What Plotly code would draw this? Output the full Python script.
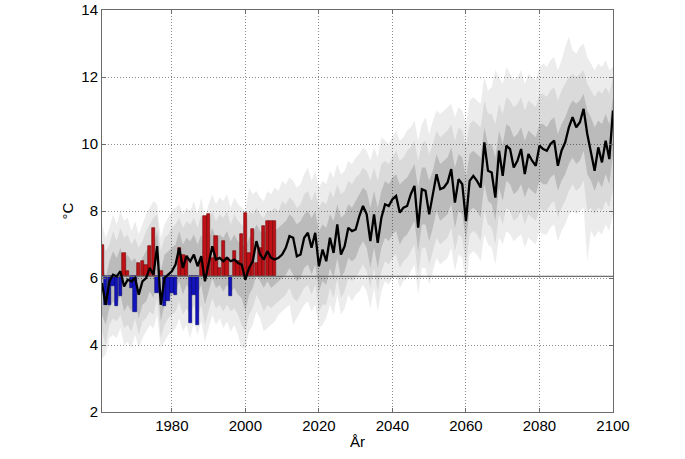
import plotly.graph_objects as go

# ---------------- data ----------------
years = list(range(1961, 2101))

# observed annual mean (bars), 1961-2008
obs_years = list(range(1961, 2009))
obs_values = [7.0, 5.2, 5.2, 5.75, 5.15, 5.45, 6.75, 6.2, 5.7, 5.0,
              6.45, 6.5, 6.4, 6.95, 7.5, 5.55, 6.2, 5.15, 5.3, 5.55,
              5.5, 6.9, 6.7, 6.65, 4.65, 5.5, 4.6, 6.5, 7.85, 7.9,
              6.6, 7.25, 6.3, 7.1, 6.6, 5.45, 6.8, 6.5, 7.3, 7.95,
              6.75, 7.45, 6.45, 6.9, 7.55, 7.7, 7.7, 7.7]
baseline = 6.05

median = [5.85, 5.2, 5.9, 6.1, 6.05, 6.2, 5.75, 5.95, 5.9, 6.0,
          5.5, 5.9, 6.0, 6.3, 6.1, 6.95, 5.2, 6.0, 6.1, 6.2,
          6.4, 6.9, 6.3, 6.65, 6.5, 6.7, 6.35, 6.65, 5.9, 6.45,
          6.95, 6.55, 6.6, 6.5, 6.6, 6.5, 6.55, 6.45, 6.4, 5.95,
          6.3, 6.5, 7.1, 6.7, 6.55, 6.8, 6.6, 6.55, 6.6, 6.7,
          6.9, 7.25, 7.2, 6.65, 6.7, 7.2, 7.35, 6.9, 7.35, 6.35,
          6.85, 6.5, 7.2, 6.75, 7.6, 6.7, 6.95, 7.5, 7.4, 7.45,
          7.85, 8.15, 7.9, 7.1, 7.9, 7.05, 7.8, 8.2, 8.15, 8.35,
          8.45, 7.95, 8.1, 8.15, 8.5, 8.75, 7.5, 8.65, 8.6, 7.9,
          8.45, 9.1, 8.65, 8.7, 8.85, 9.25, 8.25, 8.95, 8.8, 7.7,
          8.9, 9.05, 8.9, 8.7, 10.05, 9.2, 9.15, 8.4, 9.8, 9.05,
          9.95, 9.85, 9.3, 9.5, 9.85, 9.1, 9.7, 9.5, 9.35, 9.95,
          9.85, 9.8, 10.0, 10.1, 9.35, 9.8, 10.05, 10.5, 10.8, 10.5,
          10.65, 11.05, 10.3, 9.7, 9.2, 9.9, 9.45, 10.1, 9.55, 11.0]

inner_low = [4.9, 4.6, 5.1, 5.3, 5.2, 5.5, 5.0, 5.2, 5.0, 5.3,
             4.8, 5.2, 5.3, 5.6, 5.4, 6.0, 4.7, 5.2, 5.4, 5.5,
             5.6, 5.9, 5.5, 5.8, 5.6, 5.8, 5.5, 5.8, 5.2, 5.6,
             6.0, 5.7, 5.8, 5.6, 5.8, 5.6, 5.7, 5.5, 5.4, 5.0,
             5.5, 5.7, 6.1, 5.9, 5.7, 5.9, 5.7, 5.8, 5.9, 6.0,
             6.1, 6.3, 6.1, 5.9, 6.0, 6.3, 6.4, 6.1, 6.4, 5.6,
             5.9, 5.8, 6.3, 6.0, 6.6, 6.0, 6.2, 6.6, 6.5, 6.6,
             6.9, 7.1, 6.9, 6.3, 6.9, 6.3, 6.9, 7.2, 7.1, 7.3,
             7.4, 7.0, 7.2, 7.3, 7.5, 7.7, 6.8, 7.6, 7.6, 7.1,
             7.5, 8.0, 7.7, 7.8, 7.9, 8.2, 7.5, 8.0, 7.9, 7.1,
             8.0, 8.1, 8.0, 7.8, 8.8, 8.3, 8.2, 7.7, 8.7, 8.3,
             8.9, 8.8, 8.5, 8.6, 8.8, 8.4, 8.7, 8.6, 8.5, 8.9,
             8.8, 8.8, 9.0, 9.1, 8.6, 8.9, 9.1, 9.4, 9.6, 9.4,
             9.5, 9.8, 9.1, 8.9, 8.6, 8.9, 8.7, 9.1, 8.8, 9.7]

inner_high = [6.6, 6.0, 6.5, 6.8, 6.6, 6.9, 6.5, 6.7, 6.5, 6.6,
              6.3, 6.6, 6.8, 7.0, 6.9, 7.4, 6.2, 6.7, 6.8, 6.9,
              7.0, 7.4, 7.0, 7.2, 7.1, 7.3, 7.0, 7.3, 6.8, 7.1,
              7.5, 7.2, 7.3, 7.2, 7.4, 7.1, 7.3, 7.1, 7.0, 6.9,
              7.2, 7.3, 7.6, 7.4, 7.3, 7.5, 7.4, 7.4, 7.5, 7.6,
              7.7, 7.9, 7.8, 7.6, 7.7, 7.9, 8.0, 7.8, 8.0, 7.4,
              7.6, 7.5, 7.9, 7.7, 8.2, 7.8, 7.9, 8.2, 8.1, 8.3,
              8.5, 8.7, 8.6, 8.1, 8.6, 8.1, 8.6, 8.9, 8.8, 9.0,
              9.1, 8.8, 8.9, 9.0, 9.2, 9.4, 8.7, 9.3, 9.3, 8.9,
              9.2, 9.7, 9.4, 9.5, 9.6, 9.9, 9.3, 9.7, 9.6, 9.0,
              9.7, 9.8, 9.7, 9.6, 10.5, 10.0, 10.0, 9.6, 10.4, 10.0,
              10.6, 10.5, 10.2, 10.3, 10.5, 10.1, 10.4, 10.3, 10.2, 10.6,
              10.6, 10.5, 10.7, 10.8, 10.3, 10.6, 10.8, 11.1, 11.3, 11.2,
              11.3, 11.5, 11.0, 10.8, 10.5, 10.7, 10.6, 10.9, 10.6, 11.4]

mid_low = [4.4, 4.0, 4.6, 4.8, 4.7, 4.9, 4.5, 4.6, 4.4, 4.8,
           4.3, 4.7, 4.8, 5.0, 4.9, 5.4, 4.2, 4.6, 4.8, 4.9,
           5.0, 5.3, 4.9, 5.1, 4.9, 5.2, 4.8, 5.2, 4.6, 5.0,
           5.4, 5.1, 5.2, 5.0, 5.2, 5.0, 5.1, 4.9, 4.6, 4.4,
           4.9, 5.1, 5.5, 5.3, 5.0, 5.2, 5.1, 5.2, 5.3, 5.4,
           5.5, 5.7, 5.4, 5.3, 5.5, 5.7, 5.8, 5.5, 5.8, 5.0,
           5.2, 5.2, 5.7, 5.4, 6.0, 5.4, 5.6, 6.0, 5.9, 6.0,
           6.2, 6.4, 6.2, 5.7, 6.3, 5.6, 6.2, 6.5, 6.4, 6.6,
           6.7, 6.3, 6.5, 6.6, 6.8, 7.0, 6.1, 6.9, 6.9, 6.4,
           6.8, 7.2, 7.0, 7.1, 7.2, 7.5, 6.8, 7.3, 7.2, 6.4,
           7.3, 7.4, 7.3, 7.1, 8.0, 7.6, 7.5, 7.0, 7.9, 7.6,
           8.1, 8.0, 7.7, 7.8, 8.0, 7.6, 7.9, 7.8, 7.7, 8.1,
           8.0, 8.0, 8.2, 8.3, 7.8, 8.1, 8.3, 8.6, 8.8, 8.6,
           8.7, 8.9, 8.0, 8.1, 7.9, 8.1, 8.0, 8.3, 8.1, 8.7]

mid_high = [7.1, 6.8, 7.0, 7.4, 7.1, 7.5, 7.2, 7.3, 7.0, 7.2,
            6.9, 7.1, 7.4, 7.6, 7.8, 7.9, 6.8, 7.2, 7.3, 7.5,
            7.6, 7.8, 7.5, 7.7, 7.6, 7.8, 7.5, 7.9, 7.4, 7.7,
            8.0, 7.7, 7.9, 7.8, 8.0, 7.6, 7.9, 7.7, 7.6, 7.5,
            8.0, 7.9, 8.1, 7.9, 7.8, 8.0, 8.0, 8.1, 8.0, 8.3,
            8.2, 8.4, 8.3, 8.1, 8.2, 8.5, 8.6, 8.3, 8.6, 8.1,
            8.3, 8.2, 8.6, 8.4, 8.8, 8.5, 8.6, 8.9, 8.8, 9.0,
            9.1, 9.3, 9.2, 8.9, 9.3, 8.9, 9.4, 9.5, 9.4, 9.6,
            9.8, 9.5, 9.6, 9.8, 9.9, 10.1, 9.5, 10.0, 10.1, 9.7,
            10.0, 10.4, 10.2, 10.3, 10.4, 10.6, 10.1, 10.5, 10.4, 9.9,
            10.6, 10.7, 10.6, 10.5, 11.3, 10.9, 10.9, 10.6, 11.2, 10.9,
            11.4, 11.3, 11.1, 11.2, 11.4, 11.0, 11.3, 11.2, 11.1, 11.5,
            11.5, 11.4, 11.6, 11.7, 11.3, 11.6, 11.8, 12.0, 12.1, 12.0,
            12.1, 12.2, 11.8, 11.6, 11.4, 11.6, 11.5, 11.7, 11.5, 12.0]

outer_low = [3.6, 3.7, 4.2, 4.3, 4.2, 4.5, 4.0, 4.1, 3.9, 4.3,
             3.9, 4.2, 4.4, 4.6, 4.5, 4.9, 3.9, 4.1, 4.3, 4.4,
             4.5, 4.8, 4.4, 4.6, 4.2, 4.7, 4.3, 4.7, 4.1, 4.5,
             4.9, 4.6, 4.8, 4.5, 4.7, 4.4, 4.6, 4.3, 3.9, 3.9,
             4.4, 4.6, 5.0, 4.8, 4.4, 4.5, 4.6, 4.7, 4.9, 5.0,
             5.1, 5.2, 4.6, 4.8, 5.0, 5.2, 5.3, 5.0, 5.2, 4.5,
             4.6, 4.8, 5.2, 4.9, 5.5, 4.9, 5.1, 5.5, 5.3, 5.5,
             5.6, 5.8, 5.6, 5.1, 5.7, 5.0, 5.6, 5.9, 5.8, 6.0,
             6.1, 5.7, 5.9, 6.0, 6.2, 6.4, 5.5, 6.3, 6.3, 5.8,
             6.2, 6.6, 6.4, 6.5, 6.6, 6.9, 6.2, 6.7, 6.6, 5.7,
             6.7, 6.8, 6.7, 6.5, 7.3, 7.0, 6.9, 6.4, 7.2, 7.0,
             7.4, 7.3, 7.1, 7.2, 7.3, 6.9, 7.2, 7.1, 7.0, 7.4,
             7.3, 7.3, 7.5, 7.6, 7.1, 7.4, 7.6, 7.9, 8.0, 7.9,
             8.0, 8.1, 6.5, 7.4, 7.2, 7.4, 7.3, 7.6, 7.4, 7.9]

outer_high = [7.6, 7.2, 7.5, 7.9, 7.6, 8.0, 7.7, 7.8, 7.4, 7.7,
              7.3, 7.6, 7.9, 8.1, 8.3, 8.2, 7.2, 7.6, 7.8, 8.0,
              8.1, 8.2, 7.9, 8.1, 8.0, 8.3, 7.9, 8.4, 7.8, 8.2,
              8.5, 8.2, 8.4, 8.3, 8.5, 8.1, 8.4, 8.2, 8.1, 8.0,
              8.7, 8.5, 8.6, 8.4, 8.3, 8.6, 8.5, 8.7, 8.6, 8.9,
              8.8, 9.0, 8.9, 8.7, 8.8, 9.1, 9.3, 8.9, 9.2, 8.7,
              8.9, 8.8, 9.2, 9.0, 9.4, 9.1, 9.2, 9.5, 9.4, 9.6,
              9.7, 9.9, 9.8, 9.5, 9.9, 9.6, 10.2, 10.1, 10.0, 10.2,
              10.4, 10.1, 10.2, 10.4, 10.5, 10.7, 10.1, 10.6, 10.8, 10.3,
              10.7, 11.0, 10.9, 11.0, 11.1, 11.2, 10.8, 11.1, 11.0, 10.6,
              11.3, 11.4, 11.3, 11.2, 12.0, 11.6, 11.7, 12.2, 12.0, 11.8,
              12.3, 12.1, 11.9, 12.0, 12.2, 11.8, 12.1, 12.0, 11.9, 12.3,
              12.4, 12.3, 12.5, 12.6, 12.2, 12.5, 12.9, 13.2, 12.8, 12.7,
              12.9, 13.0, 12.6, 12.4, 12.2, 12.4, 12.3, 12.5, 12.2, 12.3]

x_ticks = [1980, 2000, 2020, 2040, 2060, 2080, 2100]
y_ticks = [2, 4, 6, 8, 10, 12, 14]
x_title = "År"
y_title = "°C"

FONT = "Liberation Sans, Arial, sans-serif"

# ---------------- figure ----------------
fig = go.Figure()

def band(low, high, color):
    fig.add_trace(go.Scatter(x=years, y=low, mode="lines", line=dict(width=0, color=color),
                             hoverinfo="skip", showlegend=False, xaxis="x", yaxis="y"))
    fig.add_trace(go.Scatter(x=years, y=high, mode="lines", line=dict(width=0, color=color),
                             fill="tonexty", fillcolor=color, hoverinfo="skip",
                             showlegend=False, xaxis="x", yaxis="y"))

# semi-transparent nested bands (grid shows through like the original)
band(outer_low, outer_high, "rgba(0,0,0,0.075)")
band(mid_low, mid_high, "rgba(0,0,0,0.075)")
band(inner_low, inner_high, "rgba(0,0,0,0.14)")

# baseline (on overlay axes so it is drawn above the bands)
fig.add_trace(go.Scatter(x=[years[0], years[-1]], y=[baseline, baseline], mode="lines",
                         line=dict(color="#6e6e6e", width=1.2), showlegend=False,
                         hoverinfo="skip", xaxis="x2", yaxis="y2"))

# observation bars
heights = [v - baseline for v in obs_values]
colors = ["#bf1218" if h >= 0 else "#1414bf" for h in heights]
edges = ["#700000" if h >= 0 else "#000068" for h in heights]
fig.add_trace(go.Bar(x=obs_years, y=heights, base=baseline, width=0.92,
                     marker=dict(color=colors, line=dict(color=edges, width=0.6)),
                     showlegend=False, xaxis="x2", yaxis="y2"))

# median projection line
fig.add_trace(go.Scatter(x=years, y=median, mode="lines",
                         line=dict(color="black", width=2.3), showlegend=False,
                         xaxis="x2", yaxis="y2"))

axis_common = dict(
    showline=True, mirror="ticks", linecolor="#6b6b6b", linewidth=1,
    showgrid=True, gridcolor="#8c8c8c", griddash="1px,2px", gridwidth=1,
    ticks="inside", ticklen=4, tickcolor="#6b6b6b",
    zeroline=False, automargin=False,
    tickfont=dict(family=FONT, size=15, color="black"),
)

fig.update_layout(
    width=685, height=459,
    margin=dict(l=102, r=72, t=10, b=47),
    plot_bgcolor="white", paper_bgcolor="white",
    barmode="overlay", bargap=0,
    font=dict(family=FONT, size=15, color="black"),
    xaxis=dict(range=[years[0], years[-1]], tickvals=x_ticks,
               title=dict(text=x_title, standoff=3, font=dict(family=FONT, size=15, color="black")),
               **axis_common),
    yaxis=dict(range=[2, 14], tickvals=y_ticks,
               title=dict(text=y_title, standoff=4, font=dict(family=FONT, size=15, color="black")),
               **axis_common),
    xaxis2=dict(overlaying="x", matches="x", visible=False, range=[years[0], years[-1]]),
    yaxis2=dict(overlaying="y", matches="y", visible=False, range=[2, 14]),
)

fig.write_html("out.html", config={"displayModeBar": False},
               post_script="document.body.style.margin='0px';")
